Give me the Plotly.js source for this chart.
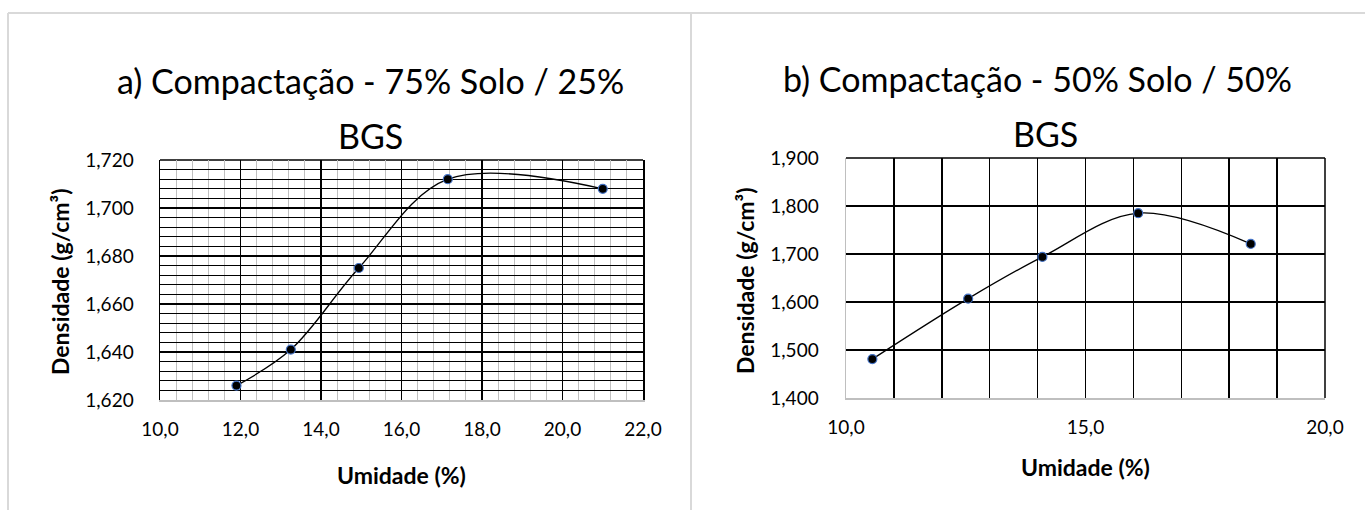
<!DOCTYPE html>
<html>
<head>
<meta charset="utf-8">
<script src="https://cdn.plot.ly/plotly-3.0.1.min.js"></script>
<style>html,body{margin:0;padding:0;background:#fff;}#chart{width:1365px;height:510px;}</style>
</head>
<body>
<div id="chart"></div>
<script>
// Data
const umidadeA = [11.9, 13.25, 14.94, 17.15, 21.0];
const densidadeA = [1.626, 1.641, 1.675, 1.712, 1.708];
const umidadeB = [10.55, 12.55, 14.1, 16.1, 18.45];
const densidadeB = [1.481, 1.607, 1.694, 1.785, 1.721];

const tituloA1 = "a) Compactação - 75% Solo / 25%";
const tituloB1 = "b) Compactação - 50% Solo / 50%";
const tituloLinha2 = "BGS";
const tituloX = "Umidade (%)";
const tituloY = "Densidade (g/cm³)";

const W = 1365, H = 510;
const px = v => v / W;
const py = v => 1 - v / H;
const FONT = "Lato, 'Liberation Sans', sans-serif";

const markerStyle = {color: '#000', size: 9, line: {color: '#4472C4', width: 1.2}};
const traces = [
  {x: umidadeA, y: densidadeA, type: 'scatter', mode: 'lines+markers', xaxis: 'x', yaxis: 'y',
   line: {shape: 'spline', smoothing: 1, color: '#000', width: 1.3}, marker: markerStyle, hoverinfo: 'skip'},
  {x: umidadeB, y: densidadeB, type: 'scatter', mode: 'lines+markers', xaxis: 'x2', yaxis: 'y2',
   line: {shape: 'spline', smoothing: 1, color: '#000', width: 1.3}, marker: markerStyle, hoverinfo: 'skip'}
];

const tickFont = {family: FONT, size: 19, color: '#000'};
const noTick = {ticks: 'outside', tickcolor: 'rgba(0,0,0,0)'};
const TITLE_SIZE = 34, AXT_SIZE = 23;

const layout = {
  width: W, height: H,
  margin: {l: 0, r: 0, t: 0, b: 0},
  paper_bgcolor: '#fff', plot_bgcolor: '#fff',
  separators: ',.',
  showlegend: false,
  font: {family: FONT, color: '#000'},
  xaxis: Object.assign({
    domain: [px(160), px(643)], range: [10, 22], tick0: 10, dtick: 2, tickformat: '.1f',
    showgrid: true, gridcolor: '#000', gridwidth: 1.5,
    minor: {tick0: 10, dtick: 0.4, showgrid: true, gridcolor: '#c0c0c0', gridwidth: 1},
    showline: true, linecolor: '#bfbfbf', linewidth: 1.5, zeroline: false,
    ticklen: 12, tickfont: tickFont, anchor: 'y'
  }, noTick),
  yaxis: Object.assign({
    domain: [py(400), py(160)], range: [1.62, 1.72], tick0: 1.62, dtick: 0.02, tickformat: '.3f',
    showgrid: true, gridcolor: '#000', gridwidth: 1.5,
    minor: {tick0: 1.62, dtick: 0.004, showgrid: true, gridcolor: '#000', gridwidth: 1},
    showline: true, linecolor: '#000', linewidth: 1.5, mirror: true, zeroline: false,
    ticklen: 21, tickfont: tickFont, anchor: 'x'
  }, noTick),
  xaxis2: Object.assign({
    domain: [px(846), px(1325)], range: [10, 20], tick0: 10, dtick: 5, tickformat: '.1f',
    showgrid: true, gridcolor: '#000', gridwidth: 1.5,
    minor: {tick0: 10, dtick: 1, showgrid: true, gridcolor: '#000', gridwidth: 1.5},
    showline: true, linecolor: '#bfbfbf', linewidth: 1.5, zeroline: false,
    ticklen: 12, tickfont: tickFont, anchor: 'y2'
  }, noTick),
  yaxis2: Object.assign({
    domain: [py(398), py(158)], range: [1.4, 1.9], tick0: 1.4, dtick: 0.1, tickformat: '.3f',
    showgrid: true, gridcolor: '#000', gridwidth: 1.5,
    showline: true, linecolor: '#bfbfbf', linewidth: 1.5, zeroline: false,
    ticklen: 22, tickfont: tickFont, anchor: 'x2'
  }, noTick),
  shapes: [
    // panel frames
    {type: 'line', xref: 'paper', yref: 'paper', x0: px(8), x1: 1, y0: py(13), y1: py(13), line: {color: '#d9d9d9', width: 2}, layer: 'below'},
    {type: 'line', xref: 'paper', yref: 'paper', x0: px(8), x1: px(8), y0: py(13), y1: 0, line: {color: '#d9d9d9', width: 2}, layer: 'below'},
    {type: 'line', xref: 'paper', yref: 'paper', x0: px(691), x1: px(691), y0: py(13), y1: 0, line: {color: '#d9d9d9', width: 2}, layer: 'below'},
    // plot borders (top / right black)
    {type: 'line', xref: 'x domain', yref: 'y domain', x0: 0, x1: 1, y0: 1, y1: 1, line: {color: '#000', width: 1.5}, layer: 'below'},
    {type: 'line', xref: 'x2 domain', yref: 'y2 domain', x0: 0, x1: 1, y0: 1, y1: 1, line: {color: '#000', width: 1.5}, layer: 'below'},
    {type: 'line', xref: 'x2 domain', yref: 'y2 domain', x0: 1, x1: 1, y0: 0, y1: 1, line: {color: '#000', width: 1.5}, layer: 'below'}
  ],
  annotations: [
    {text: tituloA1, xref: 'paper', yref: 'paper', x: px(370), y: py(80), xanchor: 'center', yanchor: 'middle', showarrow: false, font: {family: FONT, size: TITLE_SIZE, color: '#000'}},
    {text: tituloLinha2, xref: 'paper', yref: 'paper', x: px(370), y: py(136), xanchor: 'center', yanchor: 'middle', showarrow: false, font: {family: FONT, size: TITLE_SIZE, color: '#000'}},
    {text: tituloB1, xref: 'paper', yref: 'paper', x: px(1037), y: py(78), xanchor: 'center', yanchor: 'middle', showarrow: false, font: {family: FONT, size: TITLE_SIZE, color: '#000'}},
    {text: tituloLinha2, xref: 'paper', yref: 'paper', x: px(1045), y: py(134), xanchor: 'center', yanchor: 'middle', showarrow: false, font: {family: FONT, size: TITLE_SIZE, color: '#000'}},
    {text: '<b>' + tituloX + '</b>', xref: 'paper', yref: 'paper', x: px(401), y: py(475), xanchor: 'center', yanchor: 'middle', showarrow: false, font: {family: FONT, size: AXT_SIZE, color: '#000'}},
    {text: '<b>' + tituloX + '</b>', xref: 'paper', yref: 'paper', x: px(1085), y: py(467), xanchor: 'center', yanchor: 'middle', showarrow: false, font: {family: FONT, size: AXT_SIZE, color: '#000'}},
    {text: '<b>' + tituloY + '</b>', xref: 'paper', yref: 'paper', x: px(60), y: py(282), xanchor: 'center', yanchor: 'middle', textangle: -90, showarrow: false, font: {family: FONT, size: AXT_SIZE, color: '#000'}},
    {text: '<b>' + tituloY + '</b>', xref: 'paper', yref: 'paper', x: px(745), y: py(280), xanchor: 'center', yanchor: 'middle', textangle: -90, showarrow: false, font: {family: FONT, size: AXT_SIZE, color: '#000'}}
  ]
};

Plotly.newPlot('chart', traces, layout, {staticPlot: true, displayModeBar: false});
</script>
</body>
</html>
